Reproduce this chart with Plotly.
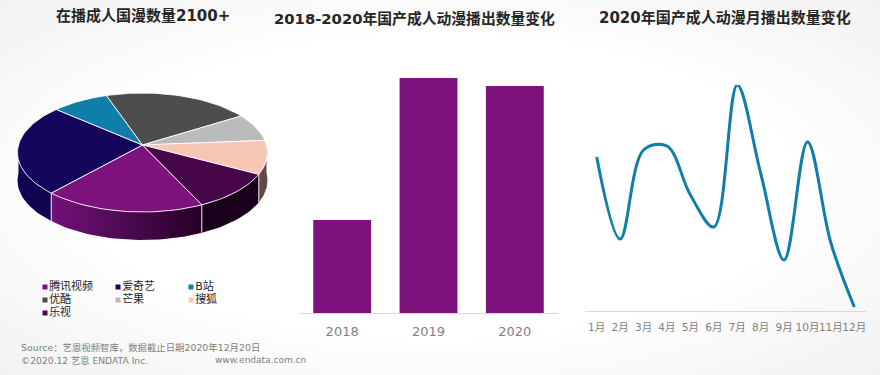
import base64
import math
import plotly.graph_objects as go

# ---------- data ----------
pie_labels = ["腾讯视频", "爱奇艺", "B站", "优酷", "芒果", "搜狐", "乐视"]
pie_values = [18.6, 24.8, 8.3, 21.4, 7.6, 9.1, 10.2]
pie_colors = ["#7d127d", "#16055c", "#0f7ea8", "#4d4d4d", "#bbbbbb", "#f8c6b4", "#47064a"]
side_colors = [None, "#0e0450", "#0a6080", "#333333", "#888888", "#5f4a44", "#1a001c"]
pie_start_deg = 154.9

bar_years = ["2018", "2019", "2020"]
bar_values = [93, 235, 227]

months = ["1月", "2月", "3月", "4月", "5月", "6月", "7月", "8月", "9月", "10月", "11月", "12月"]
month_values = [154, 72, 161, 165, 116, 84, 226, 138, 51, 169, 68, 4]

FONT = "DejaVu Sans, Noto Sans CJK SC, sans-serif"
W, H = 880, 375

# ---------- background ----------
svg = (
    f'<svg xmlns="http://www.w3.org/2000/svg" width="{W}" height="{H}">'
    '<defs><radialGradient id="g" cx="50%" cy="50%" r="72%">'
    '<stop offset="55%" stop-color="#ffffff"/><stop offset="100%" stop-color="#f1f1f1"/>'
    '</radialGradient></defs>'
    f'<rect width="{W}" height="{H}" fill="url(#g)"/></svg>'
)
bg = "data:image/svg+xml;base64," + base64.b64encode(svg.encode()).decode()

fig = go.Figure()

# ---------- perspective projection for the pie ----------
CX, CY, RX, A, K, DEPTH = 142.5, 145, 124, 58.55, 0.126, 28


def project(theta_deg, r=1.0):
    t = math.radians(theta_deg)
    u, v = r * math.sin(t), -r * math.cos(t)
    f = 1 / (1 - K * v)
    return CX + RX * u * f, CY + A * v * f


def arc(a0, a1, step=2.0):
    n = max(2, int(abs(a1 - a0) / step) + 1)
    return [project(a0 + (a1 - a0) * i / (n - 1)) for i in range(n)]


total = sum(pie_values)
edges = [pie_start_deg]
for val in pie_values:
    edges.append(edges[-1] + val / total * 360)

# side walls (visible on the front half only)
for i, (a0, a1) in enumerate(zip(edges[:-1], edges[1:])):
    segs = []
    for lo, hi in ((90, 270), (450, 630)):
        s0, s1 = max(a0, lo), min(a1, hi)
        if s1 > s0:
            segs.append((s0, s1))
    for s0, s1 in segs:
        pts = arc(s0, s1)
        xs = [p[0] for p in pts] + [p[0] for p in reversed(pts)] + [pts[0][0]]
        ys = [p[1] for p in pts] + [p[1] + DEPTH for p in reversed(pts)] + [pts[0][1]]
        kw = dict(fillcolor=side_colors[i]) if side_colors[i] else dict(
            fillgradient=dict(
                type="horizontal",
                colorscale=[[0, "#74107a"], [0.5, "#4a0a50"], [1, "#260028"]],
                start=min(xs), stop=max(xs),
            )
        )
        fig.add_trace(go.Scatter(x=xs, y=ys, mode="lines", line=dict(width=0), fill="toself",
                                 hoverinfo="skip", showlegend=False, **kw))
        # vertical seam
        for end in (s0, s1):
            if end in (a0, a1) and 90 < (end % 360) < 270:
                px, py = project(end)
                fig.add_trace(go.Scatter(x=[px, px], y=[py, py + DEPTH], mode="lines",
                                         line=dict(color="rgba(255,255,255,0.7)", width=1),
                                         hoverinfo="skip", showlegend=False))

# top faces
for label, color, a0, a1 in zip(pie_labels, pie_colors, edges[:-1], edges[1:]):
    pts = arc(a0, a1)
    xs = [CX] + [p[0] for p in pts] + [CX]
    ys = [CY] + [p[1] for p in pts] + [CY]
    fig.add_trace(go.Scatter(x=xs, y=ys, mode="lines", fill="toself", fillcolor=color,
                             line=dict(color="rgba(255,255,255,0.85)", width=1),
                             name=label, hoverinfo="name", showlegend=False))

# legend
leg_x = [45, 118, 191, 45, 118, 191, 45]
leg_y = [287, 287, 287, 300, 300, 300, 313]
fig.add_trace(go.Scatter(
    x=leg_x, y=leg_y, mode="markers+text", text=["" + s for s in pie_labels],
    textposition="middle right",
    textfont=dict(size=11, color="#262626", family=FONT),
    marker=dict(symbol="square", size=5, color=pie_colors),
    hoverinfo="skip", showlegend=False,
))

# ---------- bars ----------
fig.add_trace(go.Bar(x=bar_years, y=bar_values, marker=dict(color="#7d127d", line=dict(width=0)),
                     xaxis="x2", yaxis="y2", showlegend=False))

# ---------- monthly line ----------
fig.add_trace(go.Scatter(x=months, y=month_values, mode="lines", xaxis="x3", yaxis="y3",
                         line=dict(color="#0f7ea8", width=3, shape="spline", smoothing=1.0),
                         showlegend=False))


def dom_x(a, b):
    return [a / W, b / W]


def dom_y(top, bottom):
    return [1 - bottom / H, 1 - top / H]


tick = dict(color="#7f7f7f", family=FONT)
axis_line = dict(showline=True, linecolor="#d9d9d9", linewidth=1, showgrid=False, zeroline=False,
                 ticks="", type="category", automargin=False, fixedrange=True, ticklabelstandoff=6)
hidden_y = dict(visible=False, showgrid=False, zeroline=False, fixedrange=True, automargin=False)

titles = [
    ("在播成人国漫数量2100+", 143, 16, 15),
    ("2018-2020年国产成人动漫播出数量变化", 414.5, 18, 14.8),
    ("2020年国产成人动漫月播出数量变化", 725, 18, 15),
]
annotations = [
    dict(text=t, x=x, y=y, xref="x", yref="y", showarrow=False, xanchor="center", yanchor="middle",
         font=dict(size=s, color="#262626", family=FONT, weight="bold"))
    for t, x, y, s in titles
]
for t, x, y, s in [
    ("Source：艺恩视频智库，数据截止日期2020年12月20日", 19, 347, 9.4),
    ("©2020.12 艺恩 ENDATA Inc.", 19, 360, 9.2),
    ("www.endata.com.cn", 213, 360, 9),
]:
    annotations.append(dict(text=t, x=x, y=y, xref="x", yref="y", showarrow=False, xanchor="left",
                            yanchor="middle", font=dict(size=s, color="#7f7f7f", family=FONT)))

fig.update_layout(
    width=W, height=H, autosize=False,
    margin=dict(l=0, r=0, t=0, b=0),
    paper_bgcolor="white", plot_bgcolor="rgba(0,0,0,0)",
    showlegend=False, bargap=0.33,
    images=[dict(source=bg, xref="paper", yref="paper", x=0, y=1, sizex=1, sizey=1,
                 sizing="stretch", layer="below", xanchor="left", yanchor="top")],
    xaxis=dict(domain=[0, 1], range=[0, W], visible=False, fixedrange=True, automargin=False),
    yaxis=dict(domain=[0, 1], range=[H, 0], visible=False, fixedrange=True, automargin=False),
    xaxis2=dict(domain=dom_x(299, 558), anchor="y2", tickfont=dict(size=13, **tick), **axis_line),
    yaxis2=dict(domain=dom_y(78, 313), anchor="x2", range=[0, 235], **hidden_y),
    xaxis3=dict(domain=dom_x(585, 866), anchor="y3", range=[-0.5, 11.5],
                tickfont=dict(size=10.5, **tick), tickangle=0, **axis_line),
    yaxis3=dict(domain=dom_y(85, 311), anchor="x3", range=[0, 226], **hidden_y),
    annotations=annotations,
)

fig.write_html("out.html", config={"displayModeBar": False},
               post_script="document.body.style.margin='0';document.documentElement.style.overflow='hidden';")
